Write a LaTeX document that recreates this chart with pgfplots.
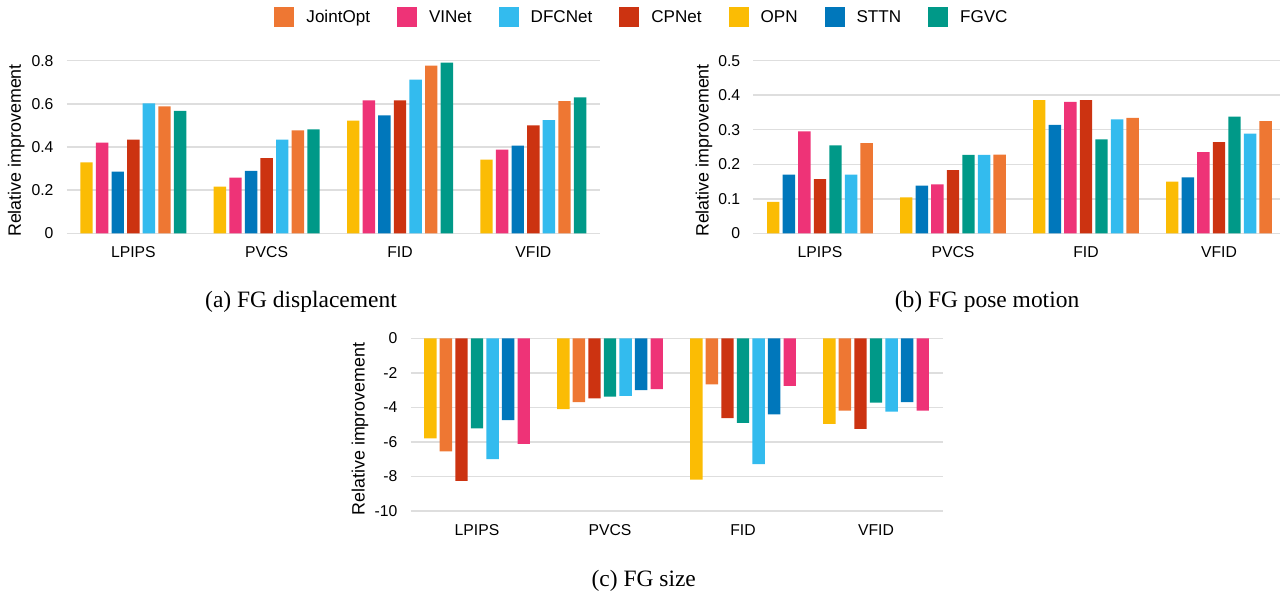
\documentclass[border=0pt]{standalone}
\usepackage{fontspec}
\setmainfont{Liberation Sans}
\newfontfamily\capfont{Liberation Serif}
\usepackage{pgfplots}
\pgfplotsset{compat=1.18}
\usepackage{pgfplotstable}

\definecolor{cJoint}{HTML}{EE7733}
\definecolor{cVINet}{HTML}{EE3377}
\definecolor{cDFC}{HTML}{33BBEE}
\definecolor{cCP}{HTML}{CC3311}
\definecolor{cOPN}{HTML}{FBBC04}
\definecolor{cSTTN}{HTML}{0077BB}
\definecolor{cFGVC}{HTML}{009988}

\pgfplotstableread{
x OPN VINet STTN CPNet DFCNet JointOpt FGVC
0 0.329 0.420 0.286 0.434 0.602 0.588 0.567
1 0.216 0.258 0.289 0.349 0.434 0.477 0.482
2 0.522 0.616 0.547 0.616 0.712 0.777 0.791
3 0.341 0.388 0.406 0.500 0.524 0.613 0.630
}\tA

\pgfplotstableread{
x OPN STTN VINet CPNet FGVC DFCNet JointOpt
0 0.091 0.170 0.295 0.157 0.255 0.170 0.261
1 0.104 0.138 0.142 0.183 0.227 0.227 0.228
2 0.386 0.314 0.381 0.386 0.272 0.330 0.334
3 0.150 0.162 0.235 0.264 0.338 0.289 0.325
}\tB

\pgfplotstableread{
x OPN JointOpt CPNet FGVC DFCNet STTN VINet
0 -5.80 -6.54 -8.26 -5.22 -7.00 -4.74 -6.11
1 -4.10 -3.69 -3.48 -3.38 -3.33 -3.00 -2.94
2 -8.18 -2.67 -4.62 -4.89 -7.29 -4.41 -2.75
3 -4.95 -4.18 -5.24 -3.73 -4.24 -3.69 -4.18
}\tC

\pgfplotsset{
  bs/.style 2 args={ybar, bar width=0.093, bar shift=#1, fill=#2, draw=none,
    legend image code/.code={\fill[#2] (0pt,-2.9pt) rectangle (15pt,12.1pt);}},
  panel/.style={
    scale only axis, anchor=south west,
    xmin=-0.5,
    xtick={0,1,2,3}, xticklabels={LPIPS,PVCS,FID,VFID},
    axis line style={draw=none}, tick style={draw=none}, major tick length=0pt,
    ymajorgrids, grid style={line width=1.1pt, color=black!13},
    tick label style={font=\fontsize{11.8}{13}\selectfont, text=black},
    yticklabel style={xshift=-6.4pt},
    xticklabel style={yshift=-6.6pt},
    /pgf/number format/assume math mode=true,
    ylabel={Relative improvement},
    label style={font=\fontsize{13.4}{15}\selectfont},
  }
}

\begin{document}
\begin{tikzpicture}
\useasboundingbox (0,0) rectangle (960pt,442.5pt);

% (a)
\begin{axis}[panel, at={(50pt,267.5pt)}, width=400pt, height=129.5pt,
  xmax=3.5, ymin=0, ymax=0.8, ytick={0,0.2,0.4,0.6,0.8},
  ylabel style={at={(axis description cs:-0.0945,0.48)}, anchor=center},
  legend columns=7, legend cell align=left,
  legend style={at={(axis description cs:1.0769,1.255)}, anchor=center,
    draw=none, fill=none, inner sep=0pt,
    font=\fontsize{12.8}{14}\selectfont,
    cells={anchor=base west},
    nodes={inner sep=0pt},
    /tikz/every odd column/.style={column sep=9pt},
    /tikz/every even column/.style={column sep=20.25pt}},
]
\addplot[bs={0.234}{cJoint}] table[x=x,y=JointOpt]{\tA}; \addlegendentry{JointOpt}
\addplot[bs={-0.234}{cVINet}] table[x=x,y=VINet]{\tA}; \addlegendentry{VINet}
\addplot[bs={0.117}{cDFC}] table[x=x,y=DFCNet]{\tA}; \addlegendentry{DFCNet}
\addplot[bs={0}{cCP}] table[x=x,y=CPNet]{\tA}; \addlegendentry{CPNet}
\addplot[bs={-0.351}{cOPN}] table[x=x,y=OPN]{\tA}; \addlegendentry{OPN}
\addplot[bs={-0.117}{cSTTN}] table[x=x,y=STTN]{\tA}; \addlegendentry{STTN}
\addplot[bs={0.351}{cFGVC}] table[x=x,y=FGVC]{\tA}; \addlegendentry{FGVC}
\end{axis}

% (b)
\begin{axis}[panel, at={(565.1pt,267.5pt)}, width=394.9pt, height=129.5pt,
  xmax=3.459, ymin=0, ymax=0.5, ytick={0,0.1,0.2,0.3,0.4,0.5},
  ylabel style={at={(axis description cs:-0.094,0.48)}, anchor=center},
]
\addplot[bs={-0.351}{cOPN}] table[x=x,y=OPN]{\tB};
\addplot[bs={-0.234}{cSTTN}] table[x=x,y=STTN]{\tB};
\addplot[bs={-0.117}{cVINet}] table[x=x,y=VINet]{\tB};
\addplot[bs={0}{cCP}] table[x=x,y=CPNet]{\tB};
\addplot[bs={0.117}{cFGVC}] table[x=x,y=FGVC]{\tB};
\addplot[bs={0.234}{cDFC}] table[x=x,y=DFCNet]{\tB};
\addplot[bs={0.351}{cJoint}] table[x=x,y=JointOpt]{\tB};
\end{axis}

% (c)
\begin{axis}[panel, at={(307.9pt,59.25pt)}, width=399pt, height=129.5pt,
  xmax=3.5, ymin=-10, ymax=0, ytick={-10,-8,-6,-4,-2,0},
  ylabel style={at={(axis description cs:-0.0949,0.475)}, anchor=center},
]
\addplot[bs={-0.351}{cOPN}] table[x=x,y=OPN]{\tC};
\addplot[bs={-0.234}{cJoint}] table[x=x,y=JointOpt]{\tC};
\addplot[bs={-0.117}{cCP}] table[x=x,y=CPNet]{\tC};
\addplot[bs={0}{cFGVC}] table[x=x,y=FGVC]{\tC};
\addplot[bs={0.117}{cDFC}] table[x=x,y=DFCNet]{\tC};
\addplot[bs={0.234}{cSTTN}] table[x=x,y=STTN]{\tC};
\addplot[bs={0.351}{cVINet}] table[x=x,y=VINet]{\tC};
\end{axis}

\node[anchor=base, font=\capfont\fontsize{17.6}{20}\selectfont] at (225.75pt,212.25pt) {(a) FG displacement};
\node[anchor=base, font=\capfont\fontsize{17.6}{20}\selectfont] at (740.25pt,212.25pt) {(b) FG pose motion};
\node[anchor=base, font=\capfont\fontsize{17.6}{20}\selectfont] at (482.8pt,3pt) {(c) FG size};
\end{tikzpicture}
\end{document}
